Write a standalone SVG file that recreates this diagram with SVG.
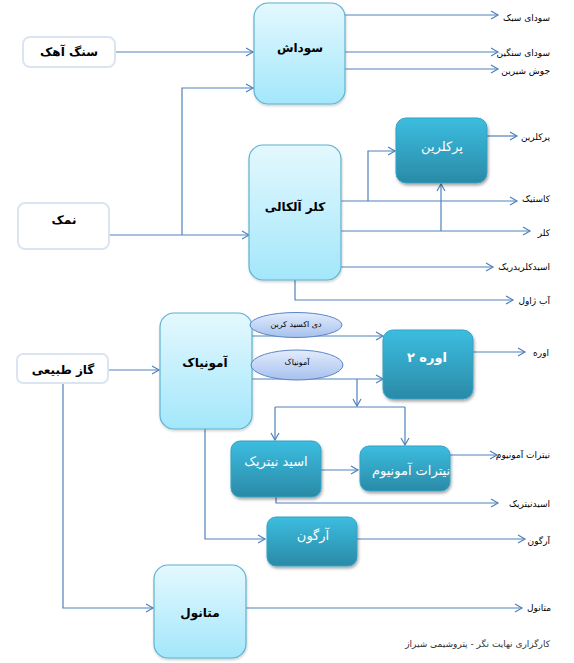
<svg xmlns="http://www.w3.org/2000/svg" width="574" height="663" viewBox="0 0 574 663">
<defs>
<linearGradient id="gl" x1="0" y1="0" x2="0" y2="1"><stop offset="0" stop-color="#e4f8fe"/><stop offset="1" stop-color="#a3e7fb"/></linearGradient>
<linearGradient id="gd" x1="0" y1="0" x2="0" y2="1"><stop offset="0" stop-color="#3cbde0"/><stop offset="1" stop-color="#2a8aa7"/></linearGradient>
<linearGradient id="ge" x1="0" y1="0" x2="0" y2="1"><stop offset="0" stop-color="#e2ecfc"/><stop offset="1" stop-color="#a6c1ef"/></linearGradient>
<filter id="sh" x="-10%" y="-10%" width="125%" height="130%"><feDropShadow dx="1" dy="2" stdDeviation="1.5" flood-color="#000" flood-opacity="0.35"/></filter>
<filter id="sl" x="-10%" y="-10%" width="125%" height="130%"><feDropShadow dx="0.5" dy="1.5" stdDeviation="1" flood-color="#000" flood-opacity="0.2"/></filter>
<marker id="ar" markerWidth="10" markerHeight="10" refX="8" refY="5" orient="auto" markerUnits="userSpaceOnUse"><path d="M1,1 L8,5 L1,9" fill="none" stroke="#4f81bd" stroke-width="1.2"/></marker>
</defs>
<style>
.src{fill:#fff;stroke:#dbe5f1;stroke-width:2}
.lt{fill:url(#gl);stroke:#5fb2cf;stroke-width:1.2}
.dk{fill:url(#gd);stroke:#30a3c4;stroke-width:1}
.el{fill:url(#ge);stroke:#5b84c6;stroke-width:1}
.c path{fill:none;stroke:#4f81bd;stroke-width:1.2}
.a{marker-end:url(#ar)}
text{font-family:"DejaVu Sans","Noto Sans",sans-serif;dominant-baseline:central}
.t{font-size:12px;font-weight:bold;fill:#000;text-anchor:middle}
.tw{font-size:13px;fill:#fff;text-anchor:middle}
.lb{font-size:9px;fill:#000;text-anchor:end}
.te{font-size:8px;fill:#000;text-anchor:middle}
.ft{font-size:9px;fill:#333;text-anchor:end}
</style>
<g class="c" id="connectors">
<path class="a" d="M115,52 H253"/>
<path class="a" d="M109,235 H249"/>
<path class="a" d="M182,235 V88 H253"/>
<path class="a" d="M345,15 H498"/>
<path class="a" d="M345,52 H498"/>
<path class="a" d="M345,69 H498"/>
<path class="a" d="M341,201 H517"/>
<path class="a" d="M368,201 V151 H395"/>
<path class="a" d="M341,231 H530"/>
<path class="a" d="M441,231 V184"/>
<path class="a" d="M341,267 H493"/>
<path class="a" d="M295,280 V300 H513"/>
<path class="a" d="M487,136 H517"/>
<path class="a" d="M108,370 H159"/>
<path class="a" d="M63,383 V608 H153"/>
<path class="a" d="M252,336 H383"/>
<path class="a" d="M252,379 H383"/>
<path class="a" d="M357,379 V406"/>
<path d="M275,407 H405"/>
<path class="a" d="M275,407 V440"/>
<path class="a" d="M405,407 V445"/>
<path class="a" d="M473,352 H525"/>
<path class="a" d="M321,470 H358"/>
<path class="a" d="M450,455 H497"/>
<path class="a" d="M276,497 V503 H498"/>
<path class="a" d="M205,429 V539 H265"/>
<path class="a" d="M357,539 H525"/>
<path class="a" d="M246,608 H522"/>
</g>
<g id="n-sang"><rect class="src" x="23" y="37" width="92" height="30" rx="7"/><text class="t" x="69" y="52">سنگ آهک</text></g>
<g id="n-namak"><rect class="src" x="18" y="203" width="91" height="46" rx="7"/><text class="t" x="64" y="220">نمک</text></g>
<g id="n-gaz"><rect class="src" x="17" y="354" width="91" height="29" rx="6"/><text class="t" x="63" y="370">گاز طبیعی</text></g>
<g id="n-sodash"><rect class="lt" filter="url(#sl)" x="254" y="3" width="91" height="101" rx="14"/><text class="t" x="300" y="48" font-weight="normal">سوداش</text></g>
<g id="n-klor"><rect class="lt" filter="url(#sl)" x="249" y="145" width="92" height="135" rx="14"/><text class="t" x="295" y="207">کلر آلکالی</text></g>
<g id="n-amonia"><rect class="lt" filter="url(#sl)" x="160" y="313" width="92" height="116" rx="14"/><text class="t" x="205" y="363">آمونیاک</text></g>
<g id="n-metanol"><rect class="lt" filter="url(#sl)" x="154" y="565" width="92" height="93" rx="14"/><text class="t" x="200" y="613">متانول</text></g>
<g id="n-perklor"><rect class="dk" filter="url(#sh)" x="396" y="118" width="91" height="65" rx="10"/><text class="tw" x="442" y="146">پرکلرین</text></g>
<g id="n-ure"><rect class="dk" filter="url(#sh)" x="383" y="330" width="90" height="69" rx="10"/><text class="tw" x="427" y="357" font-weight="bold">اوره ۲</text></g>
<g id="n-asid"><rect class="dk" filter="url(#sh)" x="231" y="441" width="90" height="56" rx="9"/><text class="tw" x="276" y="461">اسید نیتریک</text></g>
<g id="n-nitrat"><rect class="dk" filter="url(#sh)" x="360" y="446" width="90" height="45" rx="9"/><text class="tw" x="411" y="470">نیترات آمونیوم</text></g>
<g id="n-argon"><rect class="dk" filter="url(#sh)" x="267" y="517" width="90" height="49" rx="9"/><text class="tw" x="313" y="535">آرگون</text></g>
<g id="n-co2"><ellipse class="el" cx="296" cy="325" rx="46" ry="12.5"/><text class="te" x="296" y="324">دی اکسید کربن</text></g>
<g id="n-nh3"><ellipse class="el" cx="297" cy="365" rx="46" ry="15"/><text class="te" x="297" y="362">آمونیاک</text></g>
<g id="labels">
<text class="lb" x="550" y="18">سودای سبک</text>
<text class="lb" x="550" y="53">سودای سنگین</text>
<text class="lb" x="550" y="71">جوش شیرین</text>
<text class="lb" x="550" y="137">پرکلرین</text>
<text class="lb" x="550" y="199">کاستیک</text>
<text class="lb" x="550" y="233">کلر</text>
<text class="lb" x="550" y="267">اسیدکلریدریک</text>
<text class="lb" x="550" y="301">آب ژاول</text>
<text class="lb" x="549" y="353">اوره</text>
<text class="lb" x="550" y="455">نیترات آمونیوم</text>
<text class="lb" x="550" y="504">اسیدنیتریک</text>
<text class="lb" x="550" y="541">آرگون</text>
<text class="lb" x="551" y="608">متانول</text>
<text class="ft" x="550" y="644">کارگزاری نهایت نگر - پتروشیمی شیراز</text>
</g>
</svg>
